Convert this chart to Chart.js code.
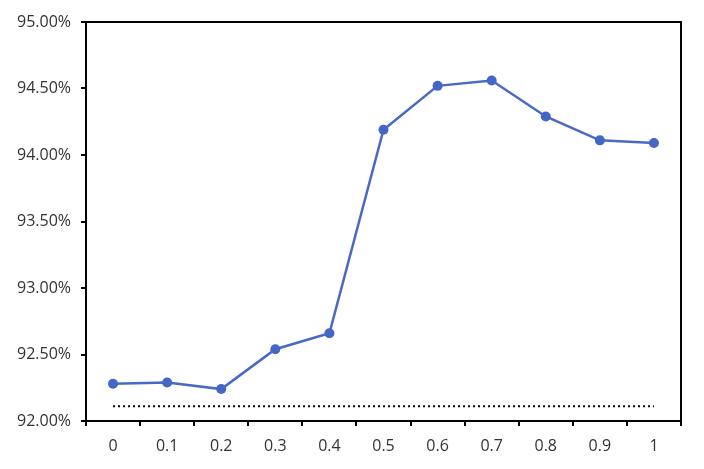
<!DOCTYPE html>
<html>
<head>
<meta charset="utf-8">
<script src="https://cdn.jsdelivr.net/npm/chart.js@4"></script>
<style>
  body { margin: 0; background: #fff; }
  #wrap { width: 704px; height: 469px; }
</style>
</head>
<body>
<div id="wrap"><canvas id="chart"></canvas></div>
<script>
let categories = ["0", "0.1", "0.2", "0.3", "0.4", "0.5", "0.6", "0.7", "0.8", "0.9", "1"];
let accuracy = [92.28, 92.29, 92.24, 92.54, 92.66, 94.19, 94.52, 94.56, 94.29, 94.11, 94.09];
let baseline = [92.11, 92.11, 92.11, 92.11, 92.11, 92.11, 92.11, 92.11, 92.11, 92.11, 92.11];

// box around plot area
const frame = {
    id: "frame",
    afterDatasetsDraw(chart) {
        let a = chart.chartArea;
        let ctx = chart.ctx;
        ctx.save();
        ctx.strokeStyle = "#000";
        ctx.lineWidth = 2;
        ctx.strokeRect(a.left, a.top, a.right - a.left, a.bottom - a.top);
        ctx.restore();
    }
};

new Chart(document.getElementById("chart"), {
    type: "line",
    data: {
        labels: categories,
        datasets: [
            {
                data: accuracy,
                borderColor: "#4869C6",
                backgroundColor: "#4466C4",
                borderWidth: 2.5,
                pointRadius: 5,
                pointBorderWidth: 0,
                tension: 0
            },
            {
                data: baseline,
                borderColor: "#000",
                borderWidth: 2,
                borderDash: [2, 3],
                pointRadius: 0,
                tension: 0
            }
        ]
    },
    options: {
        responsive: true,
        maintainAspectRatio: false,
        animation: false,
        layout: { padding: { top: 22, right: 23, left: 0, bottom: 0 } },
        plugins: { legend: { display: false }, tooltip: { enabled: false } },
        scales: {
            x: {
                offset: true,
                grid: { offset: true, drawOnChartArea: false, drawTicks: true, tickLength: 5, color: "#000", lineWidth: 2 },
                border: { color: "#000", width: 2 },
                ticks: { color: "#333", padding: 11, maxRotation: 0, font: { family: "'Open Sans'", size: 16 } },
                afterFit: s => { s.height = 48; }
            },
            y: {
                min: 92,
                max: 95,
                grid: { drawOnChartArea: false, drawTicks: true, tickLength: 5, color: "#000", lineWidth: 2 },
                border: { color: "#000", width: 2 },
                ticks: {
                    stepSize: 0.5,
                    padding: 10,
                    color: "#333",
                    font: { family: "'Open Sans'", size: 16 },
                    callback: v => v.toFixed(2) + "%"
                },
                afterFit: s => { s.width = 86; }
            }
        }
    },
    plugins: [frame]
});
</script>
</body>
</html>
